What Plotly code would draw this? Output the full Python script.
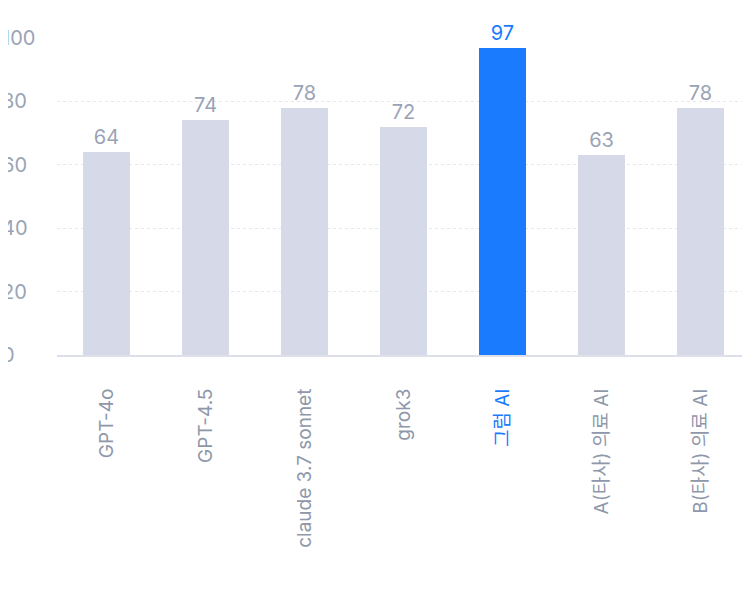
import plotly.graph_objects as go

categories = ["GPT-4o", "GPT-4.5", "claude 3.7 sonnet", "grok3", "그럼 AI", "A(타사) 의료 AI", "B(타사) 의료 AI"]
values = [64, 74, 78, 72, 97, 63, 78]
highlight = "그럼 AI"
y_ticks = [0, 20, 40, 60, 80, 100]

GRAY = "#9aa3b5"
XGRAY = "#8f98aa"
BLUE = "#1a7bff"
BAR = "#d6d9e8"
FONT = "Inter, Noto Sans CJK KR"

colors = [BLUE if c == highlight else BAR for c in categories]
tcolors = [BLUE if c == highlight else GRAY for c in categories]

fig = go.Figure()
fig.add_bar(x=categories, y=values, width=0.47, marker=dict(color=colors, line=dict(width=0)),
            text=[str(v) for v in values], textposition="outside", cliponaxis=False,
            textfont=dict(color=tcolors, size=20, family=FONT))

shapes = []
for c in categories:
    shapes.append(dict(type="line", xref="x", yref="y", x0=c, x1=c, y0=-4, y1=-7,
                       line=dict(color="#d8dbe4", width=2)))

ann = []
for t in y_ticks:
    ann.append(dict(x=-57 / 693, xref="paper", y=t, yref="y", text=str(t), showarrow=False,
                    xanchor="left", yanchor="middle", font=dict(size=20, color=GRAY, family=FONT)))

tickfont_text = [f"<span style='color:{BLUE}'>{c}</span>" if c == highlight else c for c in categories]

fig.update_layout(
    width=750, height=594, margin=dict(l=49, r=8, t=30, b=247),
    plot_bgcolor="white", paper_bgcolor="white", showlegend=False, bargap=0,
    annotations=ann, shapes=shapes,
    xaxis=dict(range=[-0.5, 6.5], tickangle=-90, ticklabelstandoff=24,
               tickvals=categories, ticktext=tickfont_text,
               tickfont=dict(size=19, color=XGRAY, family=FONT),
               showline=True, linecolor="#dde0e8", linewidth=2, showgrid=False, ticks=""),
    yaxis=dict(range=[0, 100], tickvals=y_ticks, showticklabels=False, zeroline=False,
               gridcolor="#e6e8ee", griddash="dot", gridwidth=1),
)
fig.write_html("out.html")
